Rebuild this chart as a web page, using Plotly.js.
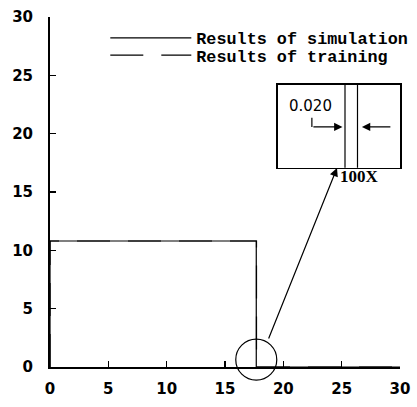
<!DOCTYPE html>
<html><head><meta charset="utf-8">
<script src="https://cdn.plot.ly/plotly-3.0.1.min.js"></script>
<style>html,body{margin:0;padding:0;background:#fff}</style>
</head><body><div id="chart" style="width:417px;height:407px"></div>
<script>
// Data
const simX = [0, 0, 17.68, 17.68, 30];
const simY = [0, 10.8, 10.8, 0, 0];
const trainX = [0, 0, 17.70, 17.70, 30];
const trainY = [0, 10.8, 10.8, 0, 0];
const tickVals = [0, 5, 10, 15, 20, 25, 30];
const tickText = ['0', '5', '10', '15', '20', '25', '30'];
const seriesNames = ['Results of simulation', 'Results of training'];
const zoomCenterX = [17.68];
const zoomCenterY = [0.63];
const gapLabel = '0.020';
const magLabel = '100X';

const tickFont = {family: 'DejaVu Sans', size: 15, color: '#000', weight: 'bold'};
const legFont = {family: 'Liberation Mono', size: 16.8, color: '#000', weight: 'bold'};

const traces = [
  {x: simX, y: simY, name: seriesNames[0], mode: 'lines', line: {color: '#000', width: 1.2}, legend: 'legend', cliponaxis: false},
  {x: trainX, y: trainY, name: seriesNames[1], mode: 'lines', line: {color: '#000', width: 1.2, dash: '33px,18px'}, legend: 'legend2', cliponaxis: false},
  {x: simX, y: simY, xaxis: 'x2', yaxis: 'y2', mode: 'lines', line: {color: '#000', width: 1.2}, showlegend: false},
  {x: trainX, y: trainY, xaxis: 'x2', yaxis: 'y2', mode: 'lines', line: {color: '#000', width: 1.2}, showlegend: false},
  {x: zoomCenterX, y: zoomCenterY, mode: 'markers', marker: {symbol: 'circle-open', size: 41, color: '#000', line: {width: 1.2, color: '#000'}}, showlegend: false, cliponaxis: false}
];

const layout = {
  width: 417, height: 407,
  margin: {l: 50, r: 17, t: 17, b: 40, autoexpand: false},
  paper_bgcolor: '#fff', plot_bgcolor: 'rgba(0,0,0,0)',
  showlegend: true,
  xaxis: {range: [0, 30], tickvals: tickVals, ticktext: tickText, ticks: 'inside', ticklen: 6, tickwidth: 1.5, tickcolor: '#000',
          showline: true, linewidth: 2, linecolor: '#000', showgrid: false, zeroline: false, tickfont: tickFont, ticklabelstandoff: 7},
  yaxis: {range: [0, 30], tickvals: tickVals, ticktext: tickText, ticks: 'inside', ticklen: 6, tickwidth: 1.5, tickcolor: '#000',
          showline: true, linewidth: 2, linecolor: '#000', showgrid: false, zeroline: false, tickfont: tickFont, ticklabelstandoff: 12},
  xaxis2: {domain: [0.65, 1], anchor: 'y2', range: [17.572, 17.768], showline: true, mirror: true, linewidth: 1.5, linecolor: '#000',
           showticklabels: false, ticks: '', showgrid: false, zeroline: false},
  yaxis2: {domain: [0.569, 0.806], anchor: 'x2', range: [1, 9], showline: true, mirror: true, linewidth: 1.5, linecolor: '#000',
           showticklabels: false, ticks: '', showgrid: false, zeroline: false},
  legend: {x: 0.158, y: 0.94, xanchor: 'left', yanchor: 'middle', bgcolor: 'rgba(0,0,0,0)', font: legFont, itemwidth: 81},
  legend2: {x: 0.158, y: 0.891, xanchor: 'left', yanchor: 'middle', bgcolor: 'rgba(0,0,0,0)', font: legFont, itemwidth: 81},
  shapes: [
    {type: 'line', xref: 'x2', yref: 'y2', x0: 17.627, x1: 17.627, y0: 4.95, y1: 5.82, line: {color: '#000', width: 1.2}}
  ],
  annotations: [
    {xref: 'x', yref: 'y', axref: 'x', ayref: 'y', x: 24.6, y: 17.06, ax: 18.69, ay: 2.31, text: '', showarrow: true,
     arrowhead: 2, arrowsize: 1.4, arrowwidth: 1.2, arrowcolor: '#000', standoff: 0, startstandoff: 0},
    {xref: 'x', yref: 'y', x: 24.66, y: 16.37, text: magLabel, showarrow: false, xanchor: 'left', yanchor: 'middle',
     font: {family: 'Liberation Serif', size: 17, color: '#000', weight: 'bold'}},
    {xref: 'x2', yref: 'y2', axref: 'x2', ayref: 'y2', x: 17.676, y: 4.95, ax: 17.627, ay: 4.95, text: '', showarrow: true,
     arrowhead: 2, arrowsize: 1.2, arrowwidth: 1.4, arrowcolor: '#000', standoff: 0, startstandoff: 0},
    {xref: 'x2', yref: 'y2', axref: 'x2', ayref: 'y2', x: 17.707, y: 4.95, ax: 17.755, ay: 4.95, text: '', showarrow: true,
     arrowhead: 2, arrowsize: 1.2, arrowwidth: 1.4, arrowcolor: '#000', standoff: 0, startstandoff: 0},
    {xref: 'x2', yref: 'y2', x: 17.624, y: 6.98, text: gapLabel, showarrow: false, xanchor: 'center', yanchor: 'middle',
     font: {family: 'DejaVu Sans', size: 15, color: '#000'}}
  ]
};

Plotly.newPlot('chart', traces, layout, {staticPlot: true});
</script></body></html>
